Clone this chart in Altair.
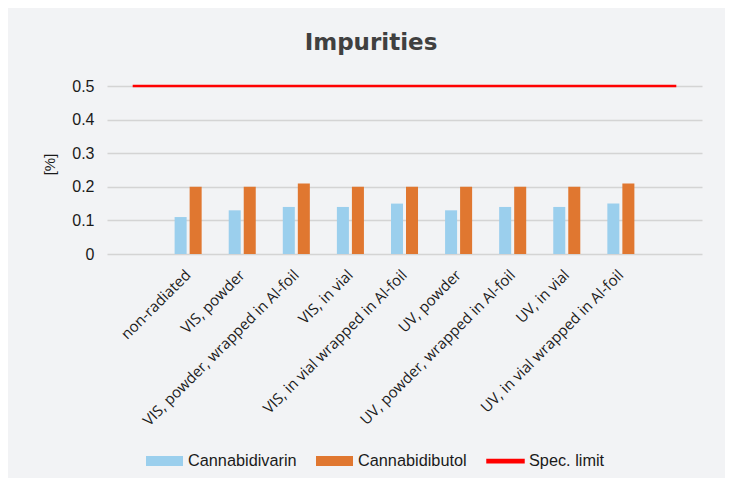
import altair as alt
import pandas as pd

categories = [
    "non-radiated",
    "VIS, powder",
    "VIS, powder, wrapped in Al-foil",
    "VIS, in vial",
    "VIS, in vial wrapped in Al-foil",
    "UV, powder",
    "UV, powder, wrapped in Al-foil",
    "UV, in vial",
    "UV, in vial wrapped in Al-foil",
]
cannabidivarin = [0.11, 0.13, 0.14, 0.14, 0.15, 0.13, 0.14, 0.14, 0.15]
cannabidibutol = [0.20, 0.20, 0.21, 0.20, 0.20, 0.20, 0.20, 0.20, 0.21]

# axis slots: one empty slot before and after the named categories
axis_slots = [" "] + categories + ["  "]
spec_limit = [0.5, 0.5, 0.5, 0.5, 0.5, 0.5, 0.5, 0.5, 0.5, 0.5, 0.5]

series_names = ["Cannabidivarin", "Cannabidibutol", "Spec. limit"]
series_colors = ["#9BCFED", "#E07730", "#FF0000"]
y_ticks = [0, 0.1, 0.2, 0.3, 0.4, 0.5]

bar_rows = []
for c, v1, v2 in zip(categories, cannabidivarin, cannabidibutol):
    bar_rows.append({"category": c, "series": series_names[0], "value": v1})
    bar_rows.append({"category": c, "series": series_names[1], "value": v2})
bars_df = pd.DataFrame(bar_rows)
line_df = pd.DataFrame({"category": axis_slots, "value": spec_limit})

x_enc = alt.X(
    "category:N",
    sort=axis_slots,
    scale=alt.Scale(domain=axis_slots, paddingInner=0, paddingOuter=0),
    title=None,
    axis=alt.Axis(
        labelAngle=-45,
        labelAlign="right",
        labelBaseline="middle",
        labelPadding=18,
        labelFont="Open Sans",
        labelFontSize=15,
        labelColor="#1a1a1a",
        labelLimit=400,
        labelOverlap=False,
        domain=False,
        ticks=False,
        grid=False,
    ),
)
y_enc = alt.Y(
    "value:Q",
    scale=alt.Scale(domain=[0, 0.5], nice=False, zero=True),
    title="[%]",
    axis=alt.Axis(
        values=y_ticks,
        tickCount=6,
        format=".1~f",
        labelOverlap=False,
        labelFont="Liberation Sans",
        labelFontSize=16,
        labelColor="#1a1a1a",
        labelPadding=13,
        ticks=False,
        domain=False,
        grid=True,
        gridColor="#D4D4D4",
        gridWidth=1.4,
        titleFont="Liberation Sans",
        titleFontSize=15,
        titleFontWeight="normal",
        titleColor="#1a1a1a",
        titleAngle=270,
        titleX=-58,
        titleY=78,
        titleAlign="center",
        titleBaseline="middle",
    ),
)

rect_path = "M-1,-0.27H1V0.27H-1Z"
line_path = "M-1.04,-0.13H1.04V0.13H-1.04Z"

bars = alt.Chart(bars_df).mark_bar().encode(
    x=x_enc,
    y=y_enc,
    xOffset=alt.XOffset(
        "series:N",
        sort=series_names[:2],
        scale=alt.Scale(domain=series_names[:2], paddingInner=0.2, paddingOuter=0.9),
    ),
    color=alt.Color(
        "series:N",
        scale=alt.Scale(domain=series_names, range=series_colors),
        legend=alt.Legend(
            title=None,
            orient="none",
            legendX=39,
            legendY=356.5,
            direction="horizontal",
            columns=3,
            columnPadding=19,
            labelOffset=5,
            padding=0,
            symbolSize=1369,
            symbolStrokeWidth=0,
            symbolOpacity=1,
            labelFont="Liberation Sans",
            labelFontSize=16.3,
            labelColor="#1a1a1a",
            symbolType={
                "expr": "datum.value === 'Spec. limit' ? '" + line_path + "' : '" + rect_path + "'"
            },
        ),
    ),
)

line = alt.Chart(line_df).mark_line(
    color="#FF0000", strokeWidth=2.7, strokeCap="square"
).encode(
    x=x_enc,
    y=y_enc,
)

chart = (
    alt.layer(bars, line)
    .properties(
        width=595,
        height=168,
        padding={"left": 99, "top": 78, "right": 23, "bottom": 224},
        autosize=alt.AutoSizeParams(type="none"),
        background="#F2F3F5",
        title=alt.TitleParams(
            "Impurities",
            font="DejaVu Sans",
            fontSize=23,
            fontWeight="bold",
            color="#404040",
            anchor="middle",
            frame="group",
            baseline="alphabetic",
            offset=5,
            dx=-33.5,
        ),
    )
    .configure_view(stroke=None)
)

chart.save("out.html", embed_options={"renderer": "svg", "actions": False})
